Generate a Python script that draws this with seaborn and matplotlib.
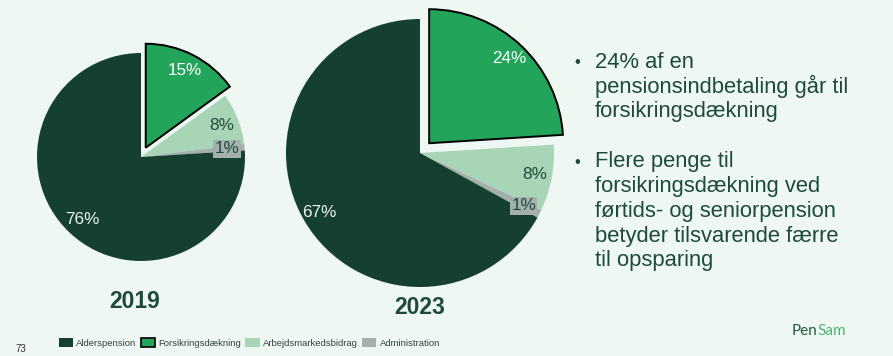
import matplotlib
matplotlib.use("Agg")
import matplotlib.pyplot as plt
import matplotlib.patches as mpatches
import seaborn as sns

# ---------------- data ----------------
categories = ["Alderspension", "Forsikringsdækning", "Arbejdsmarkedsbidrag", "Administration"]
values_2019 = [76, 15, 8, 1]
values_2023 = [67, 24, 8, 1]
years = ["2019", "2023"]
bullets = [
    "24% af en\npensionsindbetaling går til\nforsikringsdækning",
    "Flere penge til\nforsikringsdækning ved\nførtids- og seniorpension\nbetyder tilsvarende færre\ntil opsparing",
]
page_number = "73"

# ---------------- style ----------------
BG = "#EEF7F1"
DARK = "#15402F"
GREEN = "#22A55A"
LIGHT = "#A8D5B5"
GRAY = "#A3B0AC"
TEXT = "#1D4A3A"
colors = {"Alderspension": DARK, "Forsikringsdækning": GREEN,
          "Arbejdsmarkedsbidrag": LIGHT, "Administration": GRAY}
label_colors = {"Alderspension": "#EEF3EF", "Forsikringsdækning": "#FFFFFF",
                "Arbejdsmarkedsbidrag": "#1F4D3B", "Administration": "#1F4D3B"}

sns.set_theme(style="white")
plt.rcParams["font.family"] = ["Liberation Sans", "DejaVu Sans"]

W, H = 893, 356
fig = plt.figure(figsize=(W / 100, H / 100), dpi=100, facecolor=BG)

# order in which slices are drawn (clockwise from 12 o'clock)
order = [1, 2, 3, 0]


def draw_pie(values, cx, cy, r, pctdist, year, xcap, ycap):
    M = 1.3
    ax = fig.add_axes([(cx - r * M) / W, (H - cy - r * M) / H, 2 * r * M / W, 2 * r * M / H])
    ax.set_facecolor("none")
    vals = [values[i] for i in order]
    cats = [categories[i] for i in order]
    explode = [0.1 if c == "Forsikringsdækning" else 0 for c in cats]
    wedges, texts, autotexts = ax.pie(
        vals, colors=[colors[c] for c in cats], startangle=90, counterclock=False,
        explode=explode, autopct=lambda p: f"{p:.0f}%", pctdistance=pctdist,
        radius=1, textprops=dict(fontsize=12.3))
    for w, t, c in zip(wedges, autotexts, cats):
        t.set_color(label_colors[c])
        if c == "Forsikringsdækning":
            w.set_edgecolor("black")
            w.set_linewidth(1.4)
        else:
            w.set_linewidth(0)
        if c == "Administration":
            t.set_bbox(dict(facecolor=GRAY, edgecolor="none", pad=0.8))
            t.set_zorder(5)
    ax.set_xlim(-M, M)
    ax.set_ylim(-M, M)
    ax.set_aspect("equal")
    ax.axis("off")
    fig.text(xcap / W, 1 - ycap / H, year, ha="center", va="center",
             fontsize=16.5, fontweight="bold", color=TEXT)


draw_pie(values_2019, 141, 157, 104, 0.83, years[0], 135, 302)
draw_pie(values_2023, 420, 153, 134, 0.87, years[1], 420, 308)

# ---------------- bullet text ----------------
line_h = 24.7
y0 = [62, 162]
for yb, txt in zip(y0, bullets):
    fig.text(577 / W, 1 - yb / H, "•", ha="center", va="center", fontsize=12, color=TEXT)
    for k, line in enumerate(txt.split("\n")):
        fig.text(595 / W, 1 - (yb + k * line_h) / H, line, ha="left", va="center",
                 fontsize=15.8, color=TEXT)

# ---------------- legend ----------------
handles = []
for c in categories:
    ec = "black" if c == "Forsikringsdækning" else "none"
    handles.append(mpatches.Patch(facecolor=colors[c], edgecolor=ec, linewidth=1.2, label=c))
leg = fig.legend(handles=handles, loc="center left", bbox_to_anchor=(59 / W, 1 - 343 / H),
                 ncol=4, frameon=False, fontsize=6.8, handlelength=1.5, handleheight=1.15,
                 handletextpad=0.35, columnspacing=0.45, borderpad=0, borderaxespad=0)
for t in leg.get_texts():
    t.set_color("#34423D")

fig.text(15 / W, 1 - 349 / H, page_number, ha="left", va="center", fontsize=7, color="#333333")

# ---------------- logo ----------------
t1 = fig.text(792 / W, 1 - 331 / H, "Pen", ha="left", va="center", fontsize=11,
              color="#245840", family=["Lato", "DejaVu Sans"])
fig.canvas.draw()
bb = t1.get_window_extent()
fig.text((bb.x1 + 0.2) / W, 1 - 331 / H, "Sam", ha="left", va="center", fontsize=11,
         color="#4DB374", family=["Lato", "DejaVu Sans"])

fig.savefig("out.png", dpi=100, facecolor=BG)
